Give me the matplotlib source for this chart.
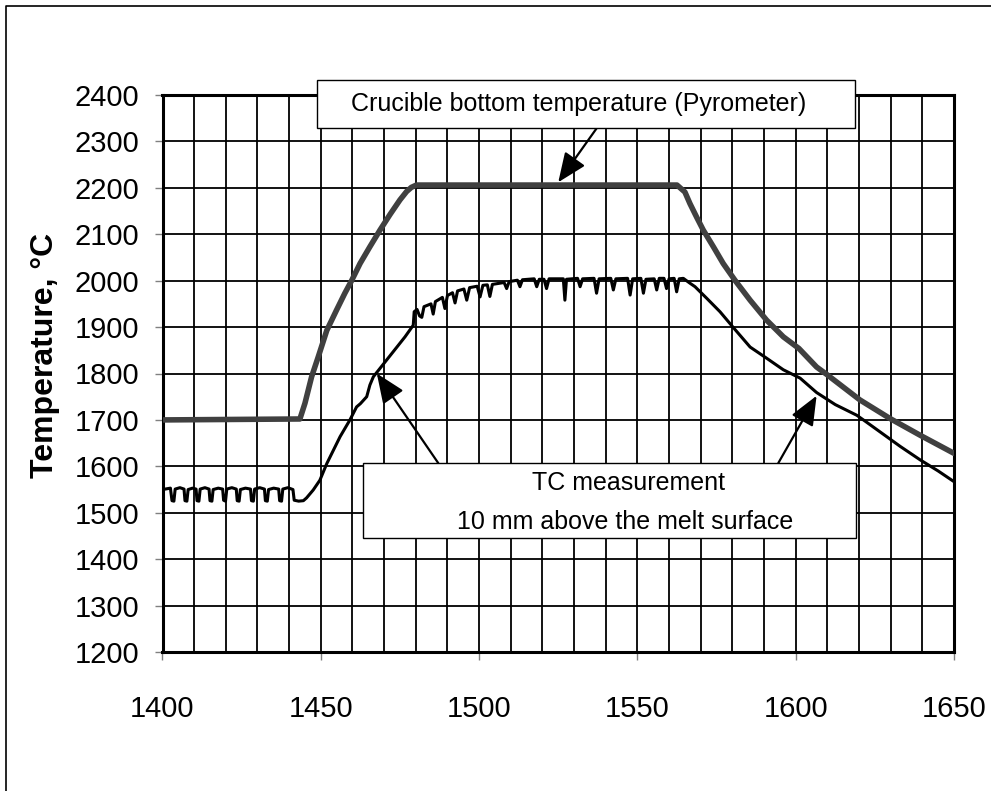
import matplotlib

matplotlib.use("Agg")

import matplotlib.pyplot as plt
from matplotlib.patches import Rectangle
from matplotlib.lines import Line2D


# Crucible bottom temperature measured by the pyrometer
PYRO_TIME = [1400, 1443.4, 1445.0, 1447.1, 1449.2, 1451.9, 1455.0, 1457.6, 1459.8,
             1462.4, 1465.5, 1468.7, 1471.9, 1475.0, 1477.1, 1478.6, 1480.2,
             1562.5, 1565.0, 1566.6, 1568.7, 1570.8, 1574.0, 1577.1, 1580.8,
             1585.6, 1590.8, 1596.1, 1601.0, 1606.6, 1610.0, 1620.3, 1629.8,
             1639.3, 1650.0]
PYRO_TEMP = [1700, 1702, 1736, 1793, 1836, 1893, 1937, 1973, 2001,
             2037, 2073, 2109, 2143, 2174, 2192, 2201, 2206,
             2206, 2191, 2166, 2137, 2109, 2073, 2037, 2001,
             1958, 1915, 1879, 1854, 1814, 1797, 1743, 1703,
             1667, 1628]

# Thermocouple 10 mm above the melt surface, split into hold / ramp / plateau / cooling
TC_HOLD_TIME = [1400.0, 1402.5, 1403.0, 1403.6, 1404.0, 1405.5, 1406.8, 1407.1, 1407.7, 1408.1,
                1409.5, 1410.6, 1410.9, 1411.5, 1411.9, 1413.4, 1414.7, 1415.0, 1415.6, 1416.0,
                1417.6, 1419.0, 1419.3, 1419.9, 1420.3, 1421.9, 1423.3, 1423.6, 1424.2, 1424.6,
                1426.2, 1427.8, 1428.1, 1428.7, 1429.1, 1430.7, 1432.2, 1432.5, 1433.1, 1433.5,
                1435.1, 1436.7, 1437.0, 1437.6, 1438.0, 1439.6, 1441.2, 1441.6, 1443.0, 1444.5]
TC_HOLD_TEMP = [1550, 1553, 1526, 1525, 1551, 1554, 1551, 1526, 1525, 1550,
                1553, 1551, 1526, 1525, 1551, 1554, 1551, 1526, 1525, 1550,
                1553, 1551, 1527, 1525, 1551, 1554, 1551, 1526, 1525, 1550,
                1553, 1551, 1526, 1525, 1551, 1554, 1551, 1526, 1525, 1550,
                1553, 1551, 1526, 1525, 1551, 1554, 1550, 1527, 1525, 1526]

TC_RAMP_TIME = [1445.5, 1447.6, 1449.7, 1451.9, 1454.0, 1456.1, 1459.2, 1461.3, 1462.5, 1464.5,
                1465.5, 1466.6, 1468.7, 1472.9, 1476.6, 1479.2, 1479.5, 1480.4, 1481.2, 1481.9]
TC_RAMP_TEMP = [1532, 1549, 1570, 1606, 1635, 1664, 1700, 1728, 1735, 1750,
                1775, 1793, 1811, 1847, 1879, 1904, 1933, 1938, 1924, 1921]

TC_PLATEAU_TIME = [1482.6, 1484.8, 1485.5, 1486.2, 1488.4, 1489.2, 1490.0, 1491.6, 1492.4, 1493.2,
                   1495.2, 1496.1, 1497.0, 1499.4, 1500.3, 1501.2, 1502.6, 1503.4, 1504.2, 1507.9,
                   1508.7, 1509.5, 1512.1, 1512.9, 1513.7, 1517.4, 1518.2, 1519.0, 1520.5, 1521.3,
                   1522.1, 1526.6, 1527.1, 1527.6, 1531.1, 1531.9, 1532.7, 1536.3, 1537.1, 1537.9,
                   1541.6, 1542.4, 1543.2, 1546.9, 1547.7, 1548.5, 1551.1, 1551.9, 1552.7, 1555.3,
                   1556.1, 1556.9, 1558.4, 1559.2, 1560.0, 1561.6, 1562.4, 1563.2, 1564.5]
TC_PLATEAU_TEMP = [1944, 1950, 1928, 1955, 1964, 1940, 1968, 1974, 1952, 1978,
                   1982, 1958, 1985, 1988, 1965, 1990, 1991, 1966, 1992, 1996,
                   1983, 1998, 2001, 1987, 2002, 2004, 1987, 2003, 2003, 1983,
                   2004, 2004, 1958, 2003, 2005, 1987, 2004, 2005, 1973, 2004,
                   2005, 1980, 2004, 2005, 1969, 2004, 2005, 1973, 2003, 2004,
                   1980, 2005, 2005, 1983, 2004, 2005, 1976, 2004, 2005]

TC_COOL_TIME = [1566.5, 1568.2, 1571.9, 1576.1, 1580.3, 1585.6, 1590.8, 1596.1, 1601.4,
                1606.6, 1612.5, 1619.3, 1622.0, 1628.7, 1633.0, 1639.3, 1645.0, 1650.0]
TC_COOL_TEMP = [1995, 1987, 1962, 1933, 1899, 1857, 1833, 1808, 1790,
                1759, 1733, 1710, 1697, 1664, 1643, 1614, 1590, 1567]

X_MAJOR = [1400, 1450, 1500, 1550, 1600, 1650]
X_MINOR = list(range(1400, 1651, 10))
Y_TICKS = list(range(1200, 2401, 100))

W, H = 991, 791


def fx(px):
    return px / W


def fy(py):
    return 1 - py / H


def add_box(fig, left, top, right, bottom):
    fig.add_artist(Rectangle((fx(left), fy(bottom)), fx(right) - fx(left), fy(top) - fy(bottom),
                             transform=fig.transFigure, facecolor="white",
                             edgecolor="black", linewidth=1.0, zorder=5))


def main():
    plt.rcParams["font.family"] = ["Liberation Sans", "DejaVu Sans"]

    fig = plt.figure(figsize=(W / 100, H / 100), dpi=100)
    ax = fig.add_axes([fx(162.5), fy(652), fx(954) - fx(162.5), fy(95) - fy(652)])

    tc_time = TC_HOLD_TIME + TC_RAMP_TIME + TC_PLATEAU_TIME + TC_COOL_TIME
    tc_temp = TC_HOLD_TEMP + TC_RAMP_TEMP + TC_PLATEAU_TEMP + TC_COOL_TEMP

    ax.plot(PYRO_TIME, PYRO_TEMP, color="#404040", linewidth=4.0,
            solid_joinstyle="round", solid_capstyle="round", zorder=3)
    ax.plot(tc_time, tc_temp, color="black", linewidth=2.2,
            solid_joinstyle="round", zorder=4)

    ax.set_xlim(1400, 1650)
    ax.set_ylim(1200, 2400)
    ax.set_xticks(X_MAJOR)
    ax.set_xticks(X_MINOR, minor=True)
    ax.set_yticks(Y_TICKS)
    ax.grid(which="both", color="black", linewidth=1.3)
    ax.set_axisbelow(True)
    ax.tick_params(axis="x", which="major", direction="out", length=6, width=1,
                   color="#808080", labelsize=21, pad=25)
    ax.tick_params(axis="x", which="minor", length=0)
    ax.tick_params(axis="y", direction="out", length=6, width=1,
                   color="#808080", labelsize=21, pad=11)
    for spine in ax.spines.values():
        spine.set_linewidth(2.2)
        spine.set_color("black")

    fig.text(fx(45), fy(355), "Temperature, °C", rotation=90, ha="center", va="center",
             fontsize=23, fontweight="bold")

    arrow = dict(arrowstyle="-|>,head_length=1.0,head_width=0.42", color="black",
                 linewidth=1.6, shrinkA=0, shrinkB=0, mutation_scale=18)
    ax.annotate("", xy=(1525, 2212), xytext=(1537.1, 2328), arrowprops=arrow,
                annotation_clip=False, zorder=6)
    ax.annotate("", xy=(1467.7, 1800), xytext=(1487.1, 1607), arrowprops=arrow,
                annotation_clip=False, zorder=6)
    ax.annotate("", xy=(1606.6, 1752), xytext=(1594.5, 1607), arrowprops=arrow,
                annotation_clip=False, zorder=6)

    add_box(fig, 317, 80, 855, 128)
    fig.text(fx(579), fy(104), "Crucible bottom temperature (Pyrometer)",
             ha="center", va="center", fontsize=18, zorder=6)

    add_box(fig, 363, 463, 856, 538)
    fig.text(fx(629), fy(483), "TC measurement", ha="center", va="center",
             fontsize=18, zorder=6)
    fig.text(fx(625), fy(522), "10 mm above the melt surface", ha="center",
             va="center", fontsize=18, zorder=6)

    # frame around the whole chart area
    fig.add_artist(Line2D([fx(6), fx(6), fx(991)], [0, fy(6), fy(6)],
                          transform=fig.transFigure, color="black", linewidth=1.2))

    fig.savefig("out.png", dpi=100)


if __name__ == "__main__":
    main()
